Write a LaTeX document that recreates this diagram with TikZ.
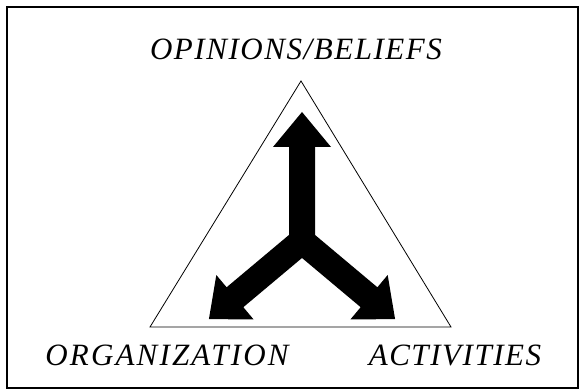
\documentclass[tikz,border=0pt]{standalone}
\usepackage{fontspec}
\setmainfont{Liberation Serif}

\begin{document}
\begin{tikzpicture}[x=1pt, y=1pt, lbl/.style={font=\fontsize{31}{37}\selectfont\itshape\addfontfeatures{LetterSpace=5}, inner sep=0pt, anchor=base}]

    \useasboundingbox (0,0) rectangle (581,390);
    \draw[line width=1.4pt] (7,2) rectangle (578,383);

    % triangle
    \coordinate (top) at (301,309);
    \coordinate (left) at (150,63);
    \coordinate (right) at (451,63);
    \draw[line width=0.8pt] (top) -- (left) -- (right) -- cycle;

    % three-way arrow
    \coordinate (hub) at (302,149);
    \foreach \ang/\base/\tip in {90/94/129, 220/87.5/121.5, -40/87.5/121.5}
        \fill[shift={(hub)}, rotate=\ang] (0,-13) -- (\base,-13) -- (\base,-29) -- (\tip,0)
            -- (\base,29) -- (\base,13) -- (0,13) -- cycle;

    \node[lbl] (beliefs) at (296,330) {OPINIONS/BELIEFS};
    \node[lbl, font=\fontsize{31}{37}\selectfont\itshape\addfontfeatures{LetterSpace=7}] (org) at (167,24) {ORGANIZATION};
    \node[lbl] (act) at (455,24) {ACTIVITIES};

\end{tikzpicture}
\end{document}
